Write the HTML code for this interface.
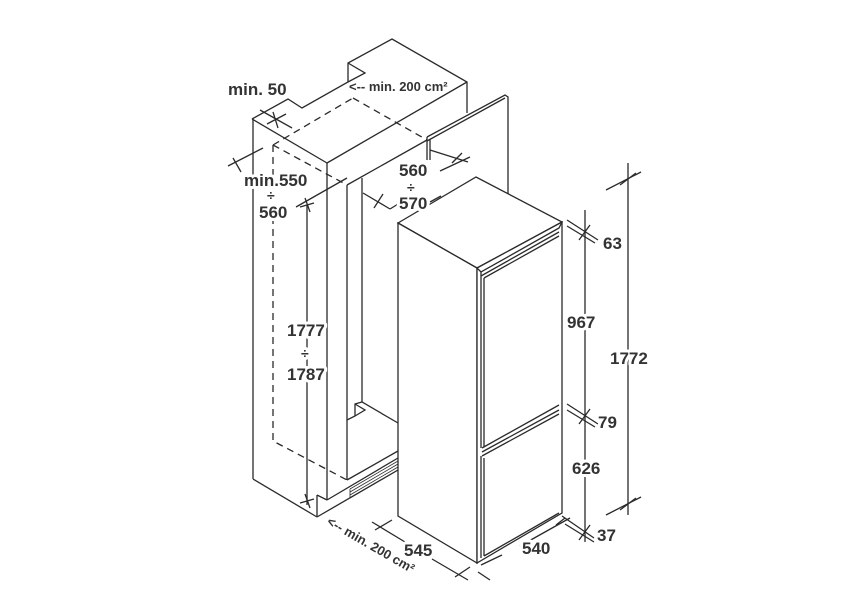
<!DOCTYPE html>
<html><head><meta charset="utf-8"><style>
html,body{margin:0;padding:0;background:#fff;}
svg{display:block;}
text{font-family:"Liberation Sans",sans-serif;font-size:17px;fill:#333;font-weight:bold;stroke:#fff;stroke-width:6px;paint-order:stroke;stroke-linejoin:round;}
.s{font-size:12px;}
</style></head><body>
<svg width="867" height="608" viewBox="0 0 867 608" xmlns="http://www.w3.org/2000/svg">
<g fill="none" stroke="#2a2a2a" stroke-width="1.3" stroke-linejoin="miter">
<polyline points="252,119 288,99 302,108 348,82 348,63 392,39 467,82 467,113"/>
<polyline points="348,63 365,73 348,82"/>
<line x1="252" y1="119" x2="327" y2="163"/>
<line x1="327" y1="163" x2="467" y2="82"/>
<line x1="253" y1="119" x2="253" y2="479"/>
<line x1="327" y1="163" x2="327" y2="500"/>
<line x1="347" y1="185" x2="347" y2="480"/>
<line x1="362" y1="178" x2="362" y2="402"/>
<line x1="253" y1="479" x2="317" y2="517"/>
<line x1="317" y1="517" x2="317" y2="495"/>
<line x1="317" y1="495" x2="327" y2="500"/>
<line x1="317" y1="517" x2="398" y2="470"/>
<line x1="327" y1="500" x2="398" y2="458"/>
<line x1="347" y1="480" x2="398" y2="451"/>
<polyline points="347,420 355,416 355,404 362,402 398,423"/>
<polyline points="355,416 365,410 355,404"/>
<g stroke-width="0.8">
<line x1="350" y1="489" x2="398" y2="461"/>
<line x1="350" y1="492" x2="398" y2="464"/>
<line x1="350" y1="495" x2="398" y2="467"/>
<line x1="350" y1="498" x2="398" y2="470"/>
<line x1="350" y1="489" x2="350" y2="498"/>
</g>
<polyline points="427,137 505,95 508,97 508,215"/>
<line x1="427" y1="141" x2="505" y2="98"/>
<line x1="347" y1="185" x2="427" y2="140"/>
<line x1="427" y1="137" x2="427" y2="160"/>
<line x1="430" y1="139" x2="430" y2="160"/>
<g stroke-dasharray="7,5">
<polyline points="273,145 273,441 347,480"/>
<line x1="273" y1="145" x2="353" y2="98"/>
<line x1="353" y1="98" x2="427" y2="140"/>
<line x1="273" y1="145" x2="347" y2="185"/>
</g>
<polygon points="398,223 476,177 562,222 477,268" fill="#fff"/>
<polygon points="398,223 477,268 477,563 398,516" fill="#fff"/>
<polygon points="477,268 562,222 562,513 477,563" fill="#fff"/>
<polyline points="477,268 481,272 559,228 562,222"/>
<line x1="481" y1="276" x2="559" y2="232"/>
<polyline points="481,272 481,448"/>
<line x1="484" y1="278" x2="484" y2="447"/>
<line x1="484" y1="278" x2="559" y2="236"/>
<line x1="482" y1="448" x2="559" y2="405"/>
<line x1="482" y1="452" x2="559" y2="410"/>
<line x1="482" y1="456" x2="559" y2="414"/>
<line x1="481" y1="456" x2="481" y2="558"/>
<line x1="484" y1="458" x2="484" y2="556"/>
<line x1="484" y1="556" x2="559" y2="513"/>
<line x1="585" y1="210" x2="585" y2="542"/>
<line x1="628" y1="163" x2="628" y2="515"/>
<line x1="567" y1="220" x2="598" y2="240"/>
<line x1="567" y1="226" x2="595" y2="243"/>
<line x1="579" y1="240" x2="590" y2="225"/>
<line x1="567" y1="404" x2="598" y2="424"/>
<line x1="567" y1="410" x2="595" y2="427"/>
<line x1="579" y1="424" x2="590" y2="409"/>
<line x1="562" y1="516" x2="594" y2="538"/>
<line x1="565" y1="524" x2="594" y2="542"/>
<line x1="579" y1="540" x2="590" y2="525"/>
<line x1="606" y1="190" x2="641" y2="172"/>
<line x1="620" y1="185" x2="636" y2="173"/>
<line x1="606" y1="515" x2="641" y2="497"/>
<line x1="620" y1="510" x2="636" y2="498"/>
<line x1="307" y1="205" x2="307" y2="505"/>
<line x1="300" y1="207" x2="314" y2="203"/><line x1="305" y1="198" x2="310" y2="212"/>
<line x1="300" y1="503" x2="314" y2="499"/><line x1="305" y1="494" x2="310" y2="508"/>
<line x1="296" y1="207" x2="347" y2="178"/>
<line x1="228" y1="166" x2="263" y2="148"/>
<line x1="233" y1="158" x2="241" y2="172"/>
<line x1="260" y1="110" x2="292" y2="128"/>
<line x1="273" y1="112" x2="278" y2="128"/>
<line x1="267" y1="124" x2="286" y2="114"/>
<line x1="363" y1="193" x2="390" y2="209"/>
<line x1="374" y1="208" x2="383" y2="194"/>
<line x1="390" y1="209" x2="403" y2="201"/>
<line x1="430" y1="150" x2="468" y2="162"/>
<line x1="452" y1="163" x2="462" y2="153"/>
<line x1="440" y1="171" x2="470" y2="157"/>
<line x1="430" y1="202" x2="441" y2="196"/>
<line x1="372" y1="522" x2="410" y2="545"/>
<line x1="375" y1="530" x2="392" y2="520"/>
<line x1="432" y1="559" x2="468" y2="580"/>
<line x1="455" y1="577" x2="470" y2="567"/>
<line x1="481" y1="565" x2="502" y2="555"/>
<line x1="478" y1="572" x2="490" y2="580"/>
<line x1="520" y1="546" x2="570" y2="518"/>
<line x1="556" y1="525" x2="565" y2="518"/>
</g>
<text x="228" y="95">min. 50</text>
<text x="349" y="91" style="font-size:13px">&lt;-- min. 200 cm²</text>
<text x="244" y="186">min.550</text>
<text x="267" y="200" style="font-size:14px">÷</text>
<text x="259" y="218">560</text>
<text x="399" y="176">560</text>
<text x="407" y="192" style="font-size:14px">÷</text>
<text x="399" y="209">570</text>
<text x="287" y="336">1777</text>
<text x="301" y="358" style="font-size:14px">÷</text>
<text x="287" y="380">1787</text>
<text x="603" y="249">63</text>
<text x="567" y="328">967</text>
<text x="610" y="364">1772</text>
<text x="598" y="428">79</text>
<text x="572" y="474">626</text>
<text x="597" y="541">37</text>
<text x="404" y="556">545</text>
<text x="522" y="554">540</text>
<text transform="translate(326,524) rotate(30)" style="font-size:13px">&lt;-- min. 200 cm²</text>
</svg>
</body></html>
